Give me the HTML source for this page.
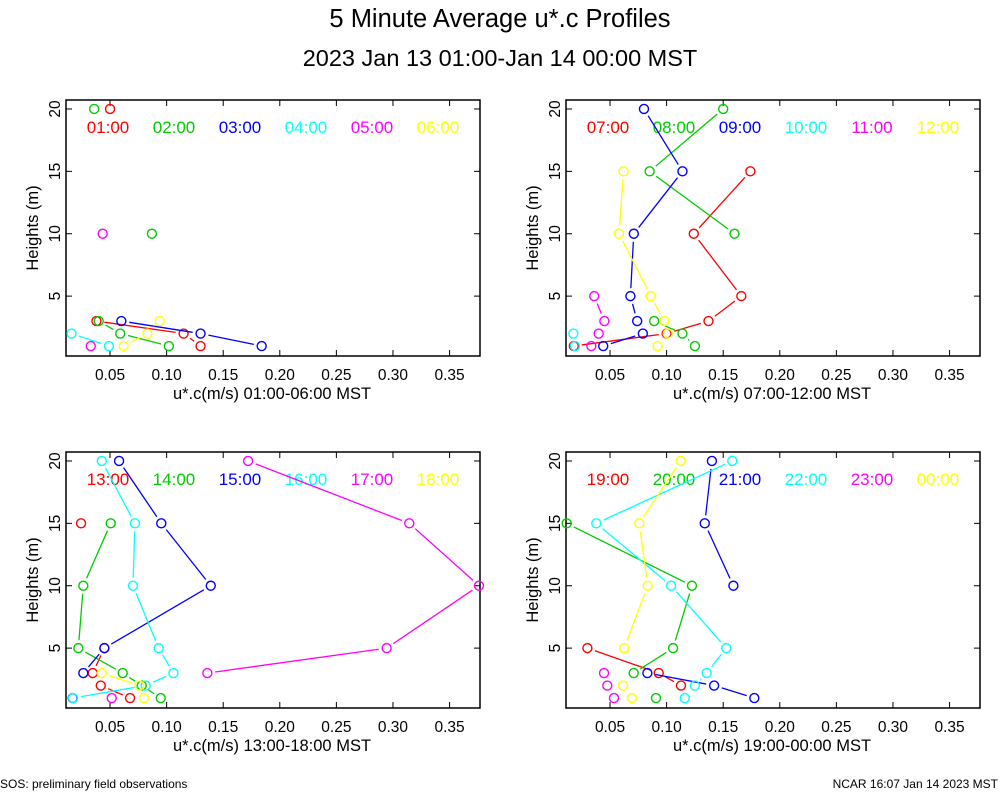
<!DOCTYPE html>
<html><head><meta charset="utf-8"><style>
body{margin:0;background:#fff;}
svg{display:block;font-family:"Liberation Sans",sans-serif;}
</style></head><body>
<svg id="chart" width="1000" height="800" viewBox="0 0 1000 800" xmlns="http://www.w3.org/2000/svg">
<text x="500" y="27" font-size="25.5" text-anchor="middle">5 Minute Average u*.c Profiles</text>
<text x="500" y="66" font-size="23.5" text-anchor="middle">2023 Jan 13 01:00-Jan 14 00:00 MST</text>
<text x="0" y="788" font-size="12">SOS: preliminary field observations</text>
<text x="998" y="788" font-size="12" text-anchor="end">NCAR 16:07 Jan 14 2023 MST</text>
</svg>
<script>
const heights = [20, 15, 10, 5, 3, 2, 1];
const xTicks = [0.05, 0.10, 0.15, 0.20, 0.25, 0.30, 0.35];
const xTickLabels = ["0.05", "0.10", "0.15", "0.20", "0.25", "0.30", "0.35"];
const yTicks = [5, 10, 15, 20];
const colors = ["#ff0000", "#00cc00", "#0000ff", "#00ffff", "#ff00ff", "#ffff00"];
const panelTitles = ["01:00-06:00", "07:00-12:00", "13:00-18:00", "19:00-00:00"];
const seriesLabels = [
  ["01:00","02:00","03:00","04:00","05:00","06:00"],
  ["07:00","08:00","09:00","10:00","11:00","12:00"],
  ["13:00","14:00","15:00","16:00","17:00","18:00"],
  ["19:00","20:00","21:00","22:00","23:00","00:00"]
];
const N = null;
// values per height [20,15,10,5,3,2,1]
const panel1Values = [
  [0.050, N, N, N, 0.038, 0.115, 0.130],
  [0.036, N, 0.087, N, 0.040, 0.059, 0.102],
  [N, N, N, N, 0.060, 0.130, 0.184],
  [N, N, N, N, N, 0.016, 0.049],
  [N, N, 0.0435, N, N, N, 0.033],
  [N, N, N, N, 0.094, 0.083, 0.062]
];
const panel2Values = [
  [N, 0.174, 0.124, 0.166, 0.137, 0.100, 0.018],
  [0.150, 0.085, 0.160, N, 0.089, 0.114, 0.125],
  [0.080, 0.114, 0.071, 0.068, 0.074, 0.079, 0.044],
  [N, N, N, N, N, 0.0176, 0.019],
  [N, N, N, 0.036, 0.045, 0.040, 0.0335],
  [N, 0.062, 0.058, 0.086, 0.098, 0.101, 0.092]
];
const panel3Values = [
  [N, 0.0244, N, 0.045, 0.0347, 0.0418, 0.0677],
  [N, 0.0506, 0.0264, 0.022, 0.0612, 0.078, 0.0948],
  [0.058, 0.0953, 0.139, 0.045, 0.0264, N, 0.017],
  [0.0427, 0.072, 0.0703, 0.093, 0.106, 0.0815, 0.0173],
  [0.172, 0.3144, 0.376, 0.2944, 0.136, N, 0.0515],
  [N, N, N, N, 0.0427, 0.0759, 0.080]
];
const panel4Values = [
  [N, N, N, 0.030, 0.093, 0.1127, N],
  [N, 0.0117, 0.1224, 0.1057, 0.0709, N, 0.0906],
  [0.140, 0.1337, 0.159, N, 0.083, 0.142, 0.1775],
  [0.158, 0.0379, 0.104, 0.1527, 0.1354, 0.125, 0.116],
  [N, N, N, N, 0.0447, 0.0476, 0.0535],
  [0.1124, 0.0759, 0.0833, 0.0626, N, 0.0615, 0.0694]
];
const panelValues = [panel1Values, panel2Values, panel3Values, panel4Values];

const NS = "http://www.w3.org/2000/svg";
const svg = document.getElementById("chart");
function mk(tag, attrs, parent){const e=document.createElementNS(NS,tag);for(const k in attrs)e.setAttribute(k,attrs[k]);(parent||svg).appendChild(e);return e;}

const XMIN = 0.0111, XMAX = 0.3769, YMIN = 0.2, YMAX = 20.72;
const origins = [[66,100],[566,100],[66,452],[566,452]];
const PW = 414, PH = 256;

panelValues.forEach((vals, p) => {
  const [ox, oy] = origins[p];
  const xs = v => ox + (v - XMIN) / (XMAX - XMIN) * PW;
  const ys = h => oy + (YMAX - h) / (YMAX - YMIN) * PH;
  const g = mk("g", {});
  
  
  const frame = mk("rect", {x: ox, y: oy, width: PW, height: PH, fill: "none", stroke: "#000", "stroke-width": 1.5}, g);
  
  
  xTicks.forEach((t, i) => {
    const x = xs(t);
    mk("line", {x1: x, y1: oy + PH, x2: x, y2: oy + PH - 6, stroke: "#000"}, g);
    mk("line", {x1: x, y1: oy, x2: x, y2: oy + 6, stroke: "#000"}, g);
    const tl = mk("text", {x: x, y: oy + PH + 24, "font-size": 15.5, "text-anchor": "middle"}, g);
    tl.textContent = xTickLabels[i];
    
    
  });
  yTicks.forEach(t => {
    const y = ys(t);
    mk("line", {x1: ox, y1: y, x2: ox + 6, y2: y, stroke: "#000"}, g);
    mk("line", {x1: ox + PW, y1: y, x2: ox + PW - 6, y2: y, stroke: "#000"}, g);
    const tl = mk("text", {x: 0, y: 0, "font-size": 15.5, "text-anchor": "middle", transform: `translate(${ox - 6},${y}) rotate(-90)`}, g);
    tl.textContent = String(t);
    
    
  });
  const yt = mk("text", {x: 0, y: 0, "font-size": 16.5, "text-anchor": "middle", transform: `translate(${ox - 28},${oy + 128}) rotate(-90)`}, g);
  yt.textContent = "Heights (m)";
  
  
  const xt = mk("text", {x: ox + 206, y: oy + PH + 43, "font-size": 16.5, "text-anchor": "middle"}, g);
  xt.textContent = "u*.c(m/s) " + panelTitles[p] + " MST";
  
  

  vals.forEach((series, s) => {
    const col = colors[s];
    const sg = mk("g", {}, g);
    
    
    for (let i = 0; i < heights.length - 1; i++) {
      const a = series[i], b = series[i + 1];
      if (a == null || b == null) continue;
      const x1 = xs(a), y1 = ys(heights[i]), x2 = xs(b), y2 = ys(heights[i + 1]);
      const d = Math.hypot(x2 - x1, y2 - y1), gap = 8;
      if (d <= 2 * gap) continue;
      const ux = (x2 - x1) / d, uy = (y2 - y1) / d;
      const ln = mk("line", {x1: x1 + ux * gap, y1: y1 + uy * gap, x2: x2 - ux * gap, y2: y2 - uy * gap, stroke: col, "stroke-width": 1.3}, sg);
      
      
    }
    series.forEach((v, i) => {
      if (v == null) return;
      const c = mk("circle", {cx: xs(v), cy: ys(heights[i]), r: 4.5, fill: "none", stroke: col, "stroke-width": 1.4}, sg);
      
      
    });
    const lg = mk("text", {x: ox + 42 + s * 66, y: oy + 33, "font-size": 17, "text-anchor": "middle", fill: col}, g);
    lg.textContent = seriesLabels[p][s];
    
    
  });
});
</script>
</body></html>
